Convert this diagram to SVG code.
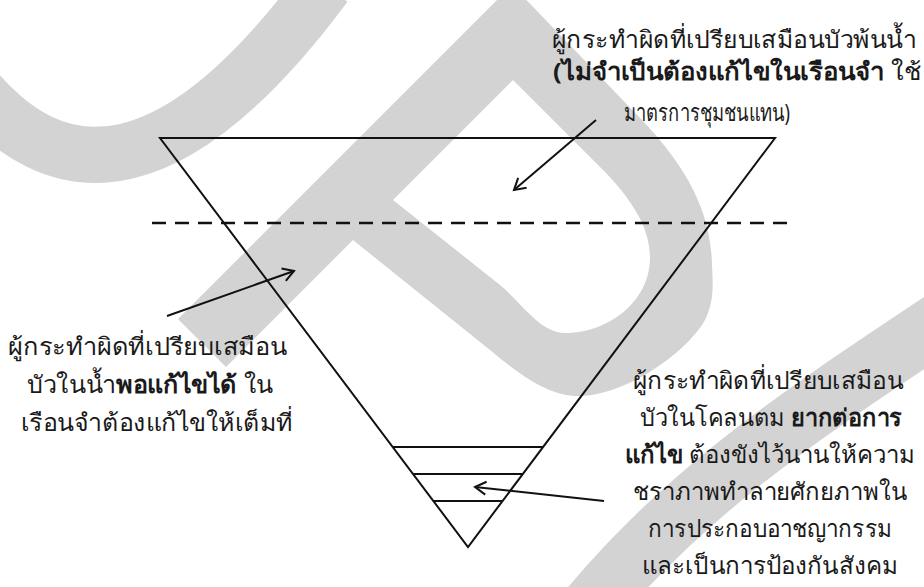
<svg xmlns="http://www.w3.org/2000/svg" width="924" height="587" viewBox="0 0 924 587">
  <defs>
    <style>
      .wm { fill: #d3d3d3; }
      .wms { fill: none; stroke: #d3d3d3; }
      .ln { fill: none; stroke: #111; stroke-width: 2; }
      .dash { fill: none; stroke: #111; stroke-width: 2.5; stroke-dasharray: 14 9; }
      .arr { fill: none; stroke: #111; stroke-width: 2; marker-end: url(#head); }
      .t { font-family: 'Noto Sans', 'DejaVu Sans', sans-serif; font-size: 24px; fill: #1a1a1a; }
      .b { font-weight: bold; }
    </style>
    <marker id="head" markerUnits="userSpaceOnUse" markerWidth="16" markerHeight="16" refX="13" refY="8" orient="auto">
      <path d="M2,1.5 L13,8 L2,14.5" fill="none" stroke="#111" stroke-width="2"/>
    </marker>
  </defs>
  <rect x="0" y="0" width="924" height="587" fill="#fff"/>

  <g id="watermark">
    <path class="wms" stroke-width="56" d="M -40 70 Q 110 275 325 -15"/>
    <path class="wm" fill-rule="evenodd" d="M 512 -15 L 178 319 L 226 367 L 353 240 L 480 342 C 510 366, 540 394, 575 396 C 625 398, 690 350, 706 318 C 714 300, 713 285, 712 265 C 711 205, 680 160, 640 118 Z M 513 80 L 607 174 C 635 204, 650 230, 650 258 C 650 300, 610 333, 565 333 C 540 333, 520 301, 500 285 L 393 200 Z"/>
    <path class="wms" stroke-width="60" d="M 1000 282 C 850 385, 700 470, 580 620"/>
  </g>

  <g id="pyramid">
    <polygon class="ln" points="160,138 775,138 468,547"/>
  </g>
  <g id="divider">
    <line class="dash" x1="152" y1="223" x2="792" y2="223"/>
  </g>
  <g id="layers">
    <line class="ln" x1="393" y1="447" x2="543" y2="447"/>
    <line class="ln" x1="413" y1="474" x2="523" y2="474"/>
    <line class="ln" x1="433" y1="501" x2="503" y2="501"/>
  </g>

  <g id="label-top">
    <text class="t" x="552" y="48" textLength="364" lengthAdjust="spacingAndGlyphs">ผู้กระทำผิดที่เปรียบเสมือนบัวพ้นน้ำ</text>
    <text class="t" x="553" y="80" textLength="368" lengthAdjust="spacingAndGlyphs"><tspan class="b">(ไม่จำเป็นต้องแก้ไขในเรือนจำ</tspan> ใช้</text>
    <text class="t" x="624" y="121" textLength="166" lengthAdjust="spacingAndGlyphs">มาตรการชุมชนแทน)</text>
  </g>

  <g id="label-left">
    <text class="t" x="8" y="355" textLength="279" lengthAdjust="spacingAndGlyphs">ผู้กระทำผิดที่เปรียบเสมือน</text>
    <text class="t" x="27" y="393" textLength="246" lengthAdjust="spacingAndGlyphs">บัวในน้ำ<tspan class="b">พอแก้ไขได้</tspan> ใน</text>
    <text class="t" x="21" y="431" textLength="272" lengthAdjust="spacingAndGlyphs">เรือนจำต้องแก้ไขให้เต็มที่</text>
  </g>

  <g id="label-bottom">
    <text class="t" x="633" y="389" textLength="270" lengthAdjust="spacingAndGlyphs">ผู้กระทำผิดที่เปรียบเสมือน</text>
    <text class="t" x="640" y="426" textLength="262" lengthAdjust="spacingAndGlyphs">บัวในโคลนตม <tspan class="b">ยากต่อการ</tspan></text>
    <text class="t" x="625" y="463" textLength="290" lengthAdjust="spacingAndGlyphs"><tspan class="b">แก้ไข</tspan> ต้องขังไว้นานให้ความ</text>
    <text class="t" x="633" y="500" textLength="274" lengthAdjust="spacingAndGlyphs">ชราภาพทำลายศักยภาพใน</text>
    <text class="t" x="648" y="537" textLength="244" lengthAdjust="spacingAndGlyphs">การประกอบอาชญากรรม</text>
    <text class="t" x="642" y="574" textLength="256" lengthAdjust="spacingAndGlyphs">และเป็นการป้องกันสังคม</text>
  </g>

  <g id="connectors">
    <line class="arr" x1="596" y1="120" x2="514" y2="190"/>
    <line class="arr" x1="167" y1="316" x2="294" y2="271"/>
    <line class="arr" x1="604" y1="501" x2="475" y2="487"/>
  </g>
</svg>
